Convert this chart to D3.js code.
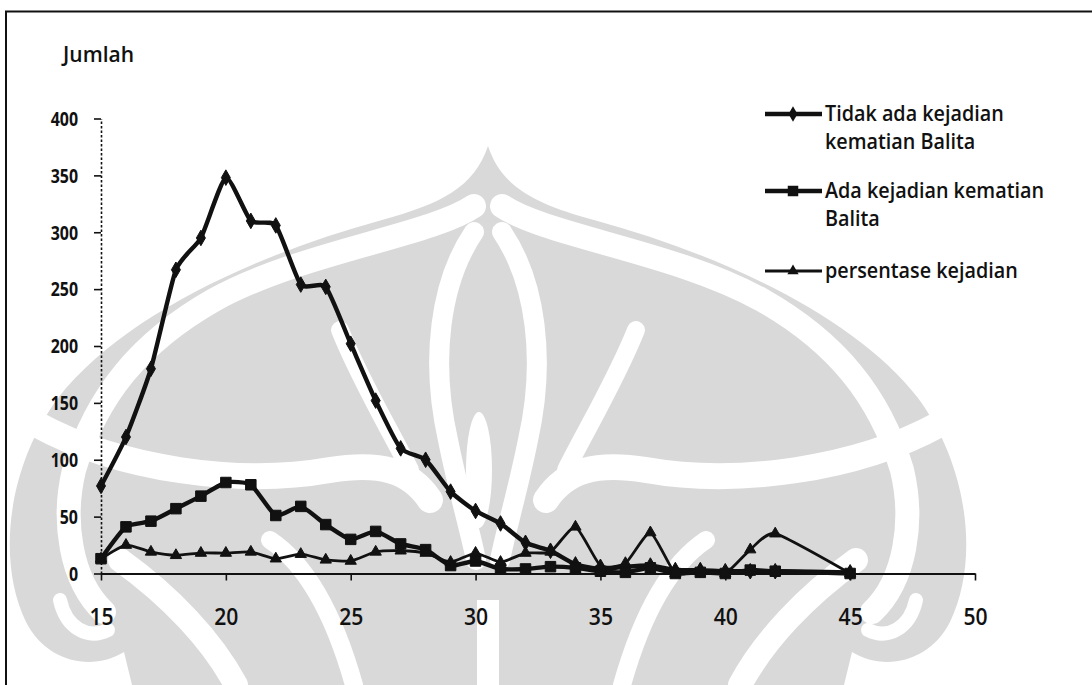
<!DOCTYPE html>
<html>
<head>
<meta charset="utf-8">
<script src="https://cdn.jsdelivr.net/npm/d3@7"></script>
<style>
  html, body { margin: 0; padding: 0; background: #ffffff; }
  svg { display: block; }
  text { font-family: "Open Sans", "Noto Sans", sans-serif; fill: #111; }
</style>
</head>
<body>
<svg id="chart" width="1092" height="685"></svg>
<script>
// Age of mother (years)
const ages = [15,16,17,18,19,20,21,22,23,24,25,26,27,28,29,30,31,32,33,34,35,36,37,38,39,40,41,42,43,44,45];
// Households with no under-five death
const tidakAda = [77,120,180,267,295,348,310,306,254,252,202,152,110,100,72,55,44,27,20,8,4,6,7,3,3,2,2,2,null,null,1];
// Households with an under-five death
const adaKejadian = [13,41,46,57,68,80,78,51,59,43,30,37,26,21,7,11,4,4,6,5,2,1,5,0,1,0,3,2,null,null,0];
// Percentage of occurrence
const persentase = [13,25,19,16,18,18,19,13,17,12,11,19,20,18,10,18,10,18,19,41,7,9,36,0,3,0,21,35,null,null,0];

const xTicks = [15,20,25,30,35,40,45,50];
const yTicks = [0,50,100,150,200,250,300,350,400];
const yTitle = "Jumlah";
const legendLabels = [
  ["Tidak ada kejadian", "kematian Balita"],
  ["Ada kejadian kematian", "Balita"],
  ["persentase kejadian"]
];

const svg = d3.select("#chart");

// ---- background emblem (light grey, symmetric about its centre line) ----
const emblem = svg.append("g");
const cx = 488;
const grey = "#d9d9d9";
// outer silhouette
emblem.append("path").attr("fill", grey).attr("d",
  "M488,146 C474,188 440,204 382,220 C250,256 120,318 58,398 " +
  "C8,466 -4,560 26,622 C46,662 92,672 124,652 L132,685 " +
  "L844,685 L852,652 C884,672 930,662 950,622 C980,560 968,466 918,398 " +
  "C856,318 726,256 594,220 C536,204 502,188 488,146 Z");
// white bands, drawn on the left and mirrored to the right
const bands = [
  { d: "M474,206 C430,236 300,252 214,300 C140,342 96,396 74,470 C62,520 70,580 104,612", w: 24 },
  { d: "M474,232 C440,282 430,360 448,440 C458,490 470,530 476,560", w: 20 },
  { d: "M36,424 C120,470 240,486 330,470 C380,462 410,470 430,500", w: 26 },
  { d: "M340,330 C360,380 390,430 410,470", w: 18 },
  { d: "M120,560 C170,596 212,640 236,685", w: 24 },
  { d: "M270,540 C300,560 330,600 354,685", w: 18 },
  { d: "M60,600 C66,628 88,640 108,630", w: 14 }
];
bands.forEach(b => {
  [false, true].forEach(mirror => {
    emblem.append("path").attr("d", b.d)
      .attr("fill", "none").attr("stroke", "#fff").attr("stroke-width", b.w)
      .attr("stroke-linecap", "round")
      .attr("transform", mirror ? `translate(${2 * cx},0) scale(-1,1)` : null);
  });
});
// central slot
emblem.append("ellipse").attr("cx", 479).attr("cy", 470).attr("rx", 13).attr("ry", 58).attr("fill", "#fff");
emblem.append("path").attr("d", "M488,600 L488,685").attr("stroke", "#fff").attr("stroke-width", 22);

// ---- outer frame (top and left rules) ----
svg.append("line").attr("x1", 5).attr("x2", 1092).attr("y1", 11.5).attr("y2", 11.5)
  .attr("stroke", "#111").attr("stroke-width", 2);
svg.append("line").attr("x1", 6).attr("x2", 6).attr("y1", 11).attr("y2", 685)
  .attr("stroke", "#111").attr("stroke-width", 2);

const x = d3.scaleLinear().domain([15, 50]).range([101, 975]);
const y = d3.scaleLinear().domain([0, 400]).range([573.5, 118.5]);

// y axis: dotted spine, short ticks on the left
const yAxis = svg.append("g").attr("transform", `translate(${x(15)},0)`)
  .call(d3.axisLeft(y).tickValues(yTicks).tickSize(7).tickSizeOuter(0).tickPadding(0));
yAxis.select(".domain").attr("stroke", "#111").attr("stroke-width", 1.6).attr("stroke-dasharray", "2.5,2");
yAxis.selectAll(".tick line").attr("stroke", "#111").attr("stroke-width", 1.6);
yAxis.selectAll(".tick text")
  .attr("font-size", 19).attr("font-weight", 700).attr("fill", "#111")
  .attr("x", -23 / 0.84).attr("dy", "0.36em")
  .attr("transform", "scale(0.84,1)");

// x axis: solid spine, ticks downward
const xAxis = svg.append("g").attr("transform", `translate(0,${y(0)})`)
  .call(d3.axisBottom(x).tickValues(xTicks).tickSize(7).tickSizeOuter(0).tickPadding(0));
xAxis.select(".domain").attr("stroke", "#111").attr("stroke-width", 2);
xAxis.selectAll(".tick line").attr("stroke", "#111").attr("stroke-width", 1.6);
xAxis.selectAll(".tick text")
  .attr("font-size", 24).attr("font-weight", 600).attr("fill", "#111")
  .attr("y", 52).attr("dy", "0")
  .attr("transform", "scale(0.88,1)");

svg.append("text").attr("transform", "translate(63,62) scale(1.0,1)")
  .attr("font-size", 21).attr("font-weight", 600).text(yTitle);

// ---- series ----
const seriesList = [
  { values: tidakAda, width: 4.4, symbol: d3.symbolDiamond, size: 70 },
  { values: adaKejadian, width: 4.4, symbol: d3.symbolSquare, size: 110 },
  { values: persentase, width: 2.8, symbol: d3.symbolTriangle, size: 55 }
];

const line = d3.line()
  .x(d => x(d.age)).y(d => y(d.v))
  .curve(d3.curveCardinal.tension(0.45));

const plot = svg.append("g");
seriesList.forEach(s => {
  const pts = ages.map((a, i) => ({ age: a, v: s.values[i] })).filter(d => d.v !== null);
  plot.append("path").datum(pts).attr("d", line)
    .attr("fill", "none").attr("stroke", "#111").attr("stroke-width", s.width)
    .attr("stroke-linejoin", "round");
  plot.selectAll(null).data(pts).enter().append("path")
    .attr("d", d3.symbol().type(s.symbol).size(s.size))
    .attr("transform", d => `translate(${x(d.age)},${y(d.v)})`)
    .attr("fill", "#111").attr("stroke", "#111").attr("stroke-width", 1);
});

// ---- legend ----
const legendTop = [114, 191, 271];
const legend = svg.append("g");
seriesList.forEach((s, i) => {
  const ly = legendTop[i];
  legend.append("line").attr("x1", 765).attr("x2", 822).attr("y1", ly).attr("y2", ly)
    .attr("stroke", "#111").attr("stroke-width", s.width);
  legend.append("path").attr("d", d3.symbol().type(s.symbol).size(s.size))
    .attr("transform", `translate(793,${ly})`).attr("fill", "#111");
  legendLabels[i].forEach((t, j) => {
    legend.append("text")
      .attr("transform", `translate(825,${ly + 7 + j * 28}) scale(0.92,1)`)
      .attr("font-size", 21.5).attr("font-weight", 600).text(t);
  });
});
</script>
</body>
</html>
